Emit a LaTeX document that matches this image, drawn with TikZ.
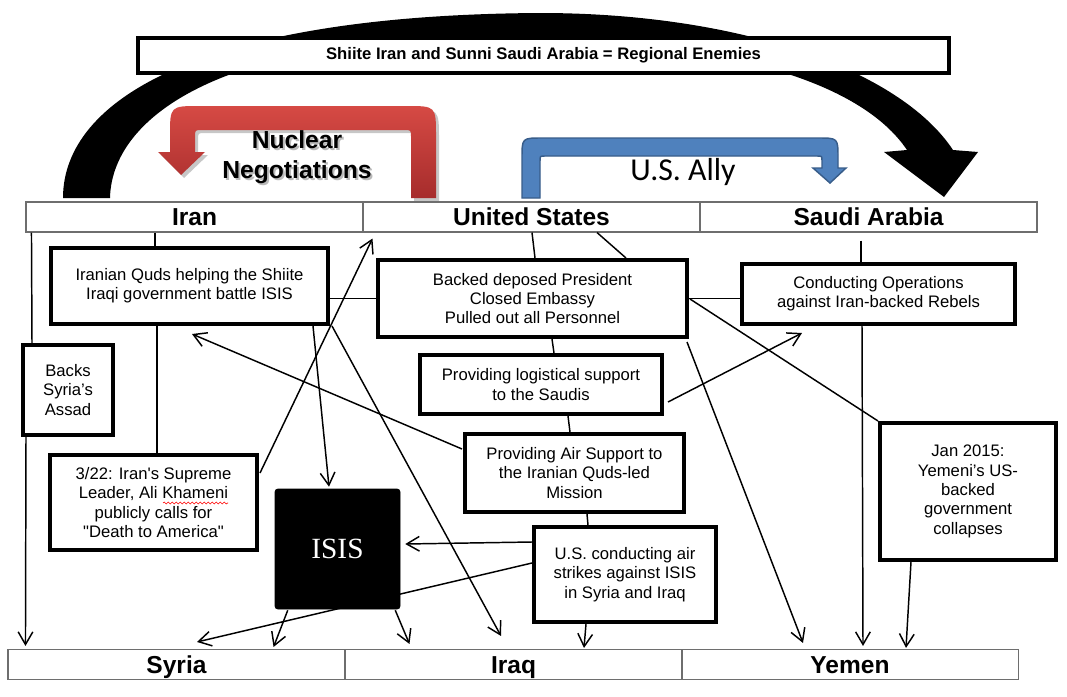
\documentclass[tikz,border=0pt]{standalone}
\usepackage{fontspec}
\setmainfont{Liberation Sans}
\newfontfamily\allyfont{Carlito}
\newfontfamily\isisfont{Liberation Serif}
\usetikzlibrary{calc,arrows.meta,decorations.pathmorphing}
\definecolor{hdrgray}{RGB}{110,110,110}
\definecolor{allyblue}{RGB}{79,129,189}
\definecolor{allyedge}{RGB}{56,93,138}
\definecolor{nucredA}{RGB}{214,74,68}
\definecolor{nucredB}{RGB}{166,44,44}
\tikzset{
  hdr/.style={draw=hdrgray, line width=0.8pt, minimum width=337*0.75pt, minimum height=30*0.75pt,
    inner sep=0pt, text height=13.2pt, text depth=0pt, font=\fontsize{18.4}{20}\selectfont\bfseries},
  box/.style={draw=black, line width=3pt, fill=white, align=center, inner sep=0pt,
    font=\fontsize{12.5}{14.5}\selectfont},
  sz/.style 2 args={minimum width=#1*0.75pt, minimum height=#2*0.75pt},
  ln/.style={line width=1.1pt},
  arr/.style={ln, -{Straight Barb[length=9.5pt,width=11pt,line width=1.1pt]}},
}
\def\redpath{(436,198) -- (436,136) .. controls (436,106) .. (406,106) -- (200,106) .. controls (170,106) .. (170,136) -- (170,152) -- (158,152) -- (181,175) -- (205,152) -- (195,152) -- (195,137) .. controls (195,130) .. (202,130) -- (404,130) .. controls (411,130) .. (411,137) -- (411,198) -- cycle}
\begin{document}
\begin{tikzpicture}[x=0.75pt,y=-0.75pt]
\useasboundingbox (0,0) rectangle (1067,696);
\fill[white] (0,0) rectangle (1067,696);

% big black curved arrow
\fill[black] (63,198) .. controls (63,100) and (200,15) .. (540,13)
  .. controls (740,13) and (900,70) .. (953,150) -- (978,152) -- (944,197) -- (884,152) -- (907,150)
  .. controls (860,80) and (720,40) .. (520,40) .. controls (240,30) and (112,110) .. (110,198) -- cycle;

% title
\node[draw=black, line width=3pt, fill=white, inner sep=0pt, minimum width=811*0.75pt, minimum height=35*0.75pt,
  font=\fontsize{12.5}{14}\selectfont\bfseries] (title) at (543.5,55.5) {Shiite Iran and Sunni Saudi Arabia = Regional Enemies};

% red U-turn arrow
\fill[black, opacity=0.22, shift={(3,3)}] \redpath;
\shade[top color=nucredA, bottom color=nucredB] \redpath;
\node[anchor=base, text=black!45, opacity=0.6, font=\fontsize{18.5}{20}\selectfont\bfseries] at (299,150) {Nuclear};
\node[anchor=base, text=black!45, opacity=0.6, font=\fontsize{18.5}{20}\selectfont\bfseries] at (299,180) {Negotiations};
\node[anchor=base, font=\fontsize{18.5}{20}\selectfont\bfseries] (nuc1) at (297,148) {Nuclear};
\node[anchor=base, font=\fontsize{18.5}{20}\selectfont\bfseries] (nuc2) at (297,178) {Negotiations};

% blue arrow
\filldraw[fill=allyblue, draw=allyedge, line width=1.1pt] (522,198) -- (522,158) .. controls (522,138) .. (542,138) -- (818,138)
  .. controls (838,138) .. (838,158) -- (838,168) -- (846,168) -- (830,183) -- (813,168) -- (822,168) -- (822,161)
  .. controls (822,156) .. (817,156) -- (545,156) .. controls (540,156) .. (540,161) -- (540,198) -- cycle;
\node[anchor=base, font=\allyfont\fontsize{23.9}{28}\selectfont] (ally) at (683,180) {U.S. Ally};

% header rows
\node[hdr] (iran) at (194.5,217) {Iran};
\node[hdr] (us) at (531.5,217) {United States};
\node[hdr] (saudi) at (868.5,217) {Saudi Arabia};
\node[hdr] (syria) at (176.5,664.5) {Syria};
\node[hdr] (iraq) at (513.5,664.5) {Iraq};
\node[hdr] (yemen) at (850,664.5) {Yemen};

% boxes
\node[box, sz={277}{76}] (quds) at (189.5,286) {Iranian Quds helping the Shiite\\Iraqi government battle ISIS};
\node[box, sz={90}{90}] (backs) at (68,390) {Backs\\Syria’s\\Assad};
\node[box, sz={207}{95}] (ayat) at (153.5,502.5) {3/22: Iran\textquotesingle s Supreme\\Leader, Ali Khameni\\publicly calls for\\\textquotedbl Death to America\textquotedbl};
\node[draw=black, fill=black, rounded corners=2pt, sz={125}{120}, inner sep=0pt, text=white,
  font=\isisfont\fontsize{22}{24}\selectfont] (isis) at (337.5,549) {ISIS};
\node[box, sz={309}{77}] (usbox) at (532.5,298.5) {Backed deposed President\\Closed Embassy\\Pulled out all Personnel};
\node[box, sz={242}{59}] (logi) at (541,384.5) {Providing logistical support\\to the Saudis};
\node[box, sz={219}{78}] (air) at (574.5,473) {Providing Air Support to\\the Iranian Quds-led\\Mission};
\node[box, sz={182}{95}] (strikes) at (625,574.5) {U.S. conducting air\\strikes against ISIS\\in Syria and Iraq};
\node[box, sz={273}{60}] (ops) at (878.5,294) {Conducting Operations\\against Iran-backed Rebels};
\node[box, sz={176}{137}] (jan) at (968,491.5) {Jan 2015:\\Yemeni’s US-\\backed\\government\\collapses};

% spell-check squiggle
\draw[red, line width=0.45pt, decorate, decoration={snake, amplitude=0.7pt, segment length=3pt}] (163,503) -- (228,503);

% connectors
\draw[ln] ($(iran.south west)+(6,0)$) -- ($(backs.north)+(-36,0)$);
\draw[arr] ($(backs.south)+(-42,0)$) -- ($(syria.north west)+(18,-3)$);
\draw[ln] ($(iran.south)+(-39.5,0)$) -- ($(quds.north)+(-34.5,0)$);
\draw[ln] ($(quds.south)+(-32.5,0)$) -- ($(ayat.north)+(3.5,0)$);
\draw[arr] ($(ayat.north east)+(1,20)$) -- ($(us.south west)+(10,6)$);
\draw[ln] (usbox.west -| quds.east) -- (usbox.west);
\draw[arr] ($(quds.south east)+(-17,0)$) -- ($(isis.north)+(-8.5,-2)$);
\draw[arr] ($(quds.south east)+(2,0)$) -- ($(iraq.north)+(-12.5,-13)$);
\draw[arr] ($(air.west)+(-1,-24)$) -- ($(quds.south)+(2.5,8)$);
\draw[ln] ($(us.south)+(0.5,0)$) -- ($(usbox.north)+(2.5,0)$);
\draw[ln] ($(us.south)+(65.5,0)$) -- ($(usbox.north)+(93.5,0)$);
\draw[ln] ($(usbox.south)+(19.5,0)$) -- ($(logi.north)+(13,0)$);
\draw[ln] ($(logi.south)+(27,0)$) -- ($(air.north)+(-4.5,0)$);
\draw[ln] ($(air.south)+(12.5,0)$) -- ($(strikes.north)+(-37,0)$);
\draw[ln] (usbox.east) -- (usbox.east -| ops.west);
\draw[ln] ($(usbox.east)+(1,0.5)$) -- (jan.north west);
\draw[arr] ($(logi.east)+(4,17.5)$) -- ($(ops.south)+(-76.5,7)$);
\draw[arr] ($(usbox.south east)+(-2,3)$) -- ($(yemen.north)+(-47,-6)$);
\draw[ln] ($(saudi.south)+(-7.5,8)$) -- ($(ops.north)+(-17.5,0)$);
\draw[arr] ($(ops.south)+(-16.5,0)$) -- ($(yemen.north)+(13,-3)$);
\draw[arr] ($(jan.south)+(-57,0)$) -- ($(yemen.north)+(56,-1)$);
\draw[arr] ($(strikes.west)+(0,-32.5)$) -- ($(isis.east)+(5,-5)$);
\draw[arr] ($(strikes.west)+(0,-11.5)$) -- ($(syria.north)+(20.5,-7)$);
\draw[arr] ($(isis.south west)+(13,1)$) -- ($(syria.north east)+(-72,-2)$);
\draw[arr] ($(isis.south east)+(-5,1)$) -- ($(iraq.north west)+(65,-5)$);
\draw[arr] ($(strikes.south)+(-39,0)$) -- ($(iraq.north)+(70.5,-1)$);
\end{tikzpicture}
\end{document}
